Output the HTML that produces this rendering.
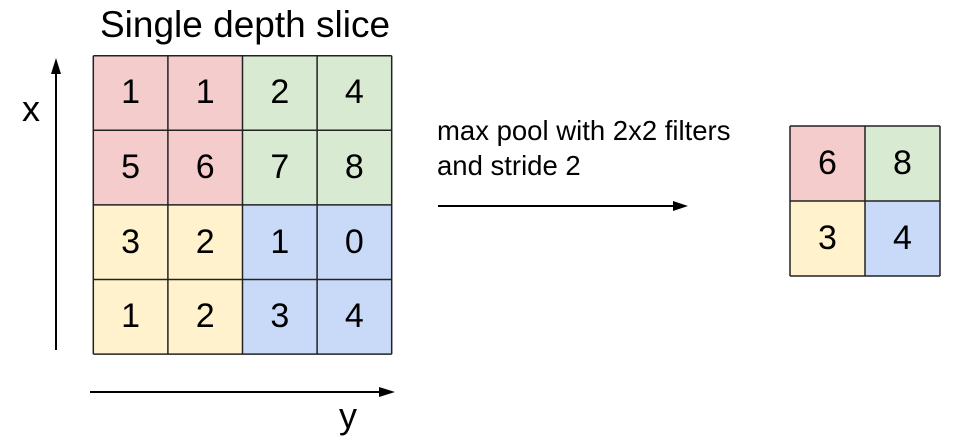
<!DOCTYPE html>
<html><head><style>
html,body{margin:0;padding:0;background:#fff;}
body{width:971px;height:439px;position:relative;overflow:hidden;font-family:"Liberation Sans",Arial,sans-serif;}
.c{position:absolute;box-sizing:border-box;display:flex;align-items:center;justify-content:center;font-size:34px;color:#000;}
.r{background:#f4cccc}.g{background:#d9ead3}.y{background:#fff2cc}.b{background:#c9daf8}
.t{position:absolute;white-space:nowrap;color:#000;}
</style></head><body>
<div class="t" style="left:100px;top:4px;font-size:37px;">Single depth slice</div>
<div class="t" style="left:22px;top:88px;font-size:36px;">x</div>
<div class="t" style="left:339px;top:395px;font-size:36px;">y</div>
<div class="t" style="left:437px;top:113px;font-size:27.5px;line-height:35px;">max pool with 2x2 filters<br>and stride 2</div>
<div id="g"></div>
<svg width="971" height="439" style="position:absolute;left:0;top:0">
<line x1="56" y1="350" x2="56" y2="70" stroke="#000" stroke-width="2"/>
<polygon points="56,58 51,74 61,74" fill="#000"/>
<line x1="90" y1="392" x2="382" y2="392" stroke="#000" stroke-width="2"/>
<polygon points="395,392 379,387 379,397" fill="#000"/>
<line x1="438" y1="206" x2="676" y2="206" stroke="#000" stroke-width="2"/>
<polygon points="688,206 673,201 673,211" fill="#000"/>
<g stroke="#222" stroke-width="1.5" fill="none" id="lines"></g>
</svg>
<script>
var v=[[1,1,2,4],[5,6,7,8],[3,2,1,0],[1,2,3,4]],h='',L='';
var x0=93.3,y0=55.7,s=74.6;
for(var i=0;i<4;i++)for(var j=0;j<4;j++){var k=i<2?(j<2?'r':'g'):(j<2?'y':'b');
h+='<div class="c '+k+'" style="left:'+(x0+j*s)+'px;top:'+(y0+i*s)+'px;width:'+s+'px;height:'+s+'px">'+v[i][j]+'</div>';}
for(var i=0;i<=4;i++){L+='<line x1="'+(x0+i*s)+'" y1="'+y0+'" x2="'+(x0+i*s)+'" y2="'+(y0+4*s)+'"/>';L+='<line x1="'+x0+'" y1="'+(y0+i*s)+'" x2="'+(x0+4*s)+'" y2="'+(y0+i*s)+'"/>';}
var w=[[6,8],[3,4]],kk=[['r','g'],['y','b']],a=790,b=126,t=75;
for(var i=0;i<2;i++)for(var j=0;j<2;j++)h+='<div class="c '+kk[i][j]+'" style="left:'+(a+j*t)+'px;top:'+(b+i*t)+'px;width:'+t+'px;height:'+t+'px">'+w[i][j]+'</div>';
for(var i=0;i<=2;i++){L+='<line x1="'+(a+i*t)+'" y1="'+b+'" x2="'+(a+i*t)+'" y2="'+(b+2*t)+'"/>';L+='<line x1="'+a+'" y1="'+(b+i*t)+'" x2="'+(a+2*t)+'" y2="'+(b+i*t)+'"/>';}
document.getElementById('g').innerHTML=h;
document.getElementById('lines').innerHTML=L;
</script>
</body></html>
